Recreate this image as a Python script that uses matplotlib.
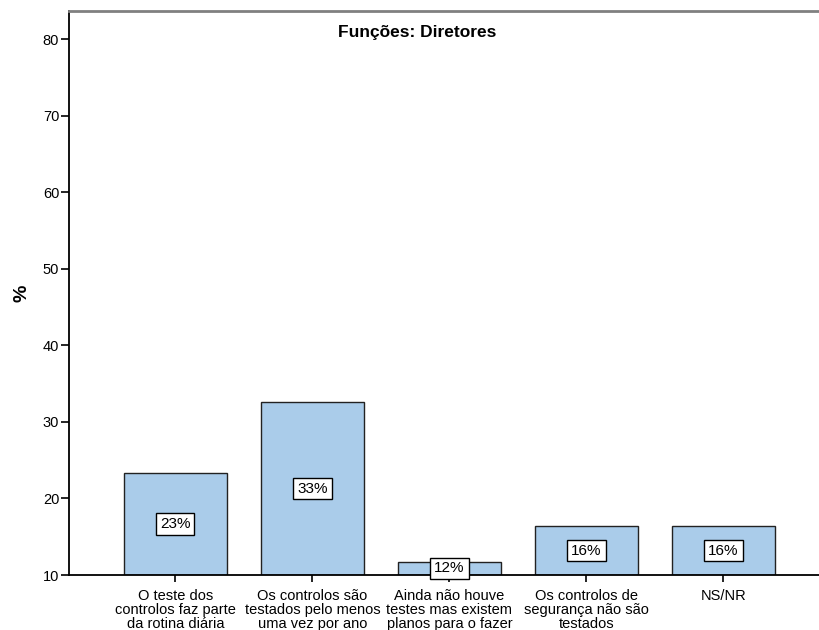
import matplotlib.pyplot as plt
import numpy as np

plt.rcParams['font.family'] = ['Liberation Sans', 'DejaVu Sans']

categories = ['O teste dos\ncontrolos faz parte\nda rotina diária',
              'Os controlos são\ntestados pelo menos\numa vez por ano',
              'Ainda não houve\ntestes mas existem\nplanos para o fazer',
              'Os controlos de\nsegurança não são\ntestados',
              'NS/NR']
values = [23.3, 32.6, 11.7, 16.4, 16.4]
labels = ['23%', '33%', '12%', '16%', '16%']
yticks = [10, 20, 30, 40, 50, 60, 70, 80]

fig = plt.figure(figsize=(8.19, 6.3), dpi=100)
ax = fig.add_axes([0.0842, 0.0873, 0.9158, 0.8952])

base = 10
x = np.arange(len(categories))
ax.bar(x, np.array(values) - base, bottom=base, width=0.75,
       color='#aaccea', edgecolor='#222222', linewidth=1.0, zorder=2)

# value boxes sit in the middle of the visible part of each bar
for xi, v, lab in zip(x, values, labels):
    ax.text(xi, (v + base) / 2, lab, ha='center', va='center', fontsize=11,
            bbox=dict(boxstyle='square,pad=0.25', facecolor='white',
                      edgecolor='black', linewidth=1.0), zorder=3)

ax.set_xlim(-0.777, 4.697)
ax.set_ylim(10, 83.7)
ax.set_yticks(yticks)
ax.set_xticks(x)
ax.set_xticklabels(categories, fontsize=10.5, linespacing=1.02)
ax.tick_params(axis='y', labelsize=10.5, length=6, width=1.2, pad=1)
ax.tick_params(axis='x', length=5, width=1.2, pad=5)

ax.spines['right'].set_visible(False)
ax.spines['top'].set_color('#808080')
ax.spines['top'].set_linewidth(2)
ax.spines['left'].set_linewidth(1.3)
ax.spines['bottom'].set_linewidth(1.3)

ax.set_ylabel('%', fontsize=14, fontweight='bold', labelpad=9)
ax.text(0.464, 0.962, 'Funções: Diretores', transform=ax.transAxes,
        ha='center', va='center', fontsize=12.5, fontweight='bold')

fig.savefig('out.png', dpi=100)
